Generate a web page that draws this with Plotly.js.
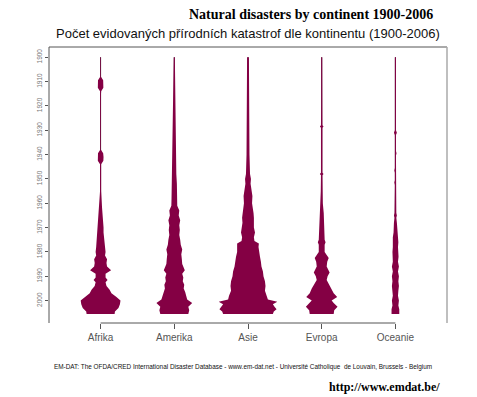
<!DOCTYPE html>
<html>
<head>
<meta charset="utf-8">
<script src="https://cdn.plot.ly/plotly-3.0.1.min.js"></script>
<style>html,body{margin:0;padding:0;background:#fff;}#chart{width:477px;height:397px;}</style>
</head>
<body>
<div id="chart"></div>
<script>
// ---- data (estimated number of recorded natural disasters per year) ----
const continents = ["Afrika", "Amerika", "Asie", "Evropa", "Oceanie"];
const yearTicks = [1900, 1910, 1920, 1930, 1940, 1950, 1960, 1970, 1980, 1990, 2000];

const afrikaYears  = [1900,1908,1909.5,1911,1912.5,1914,1915.5,1938,1939.5,1941,1942.5,1944,1945.5,1955,1962,1964,1966,1968,1970,1972,1974,1976,1978,1980,1981.5,1983,1984.5,1986,1987.5,1989,1990.5,1991.5,1992.5,1994,1995.5,1997,1998.5,2000,2001.5,2003,2004.5,2005.5];
const afrikaCounts = [2,2,14,16,15,3,2,2,14,16,15,3,3,3,8,11,14,14,16,16,19,22,24,27,24,35,32,35,57,27,27,38,27,32,49,59,86,108,105,97,78,76];

const amerikaYears  = [1900,1910,1920,1930,1940,1948,1952,1958,1961,1963,1965,1967,1969,1971,1973,1975,1977,1979,1981,1983,1985,1987.5,1989,1990.5,1992,1993.5,1995,1996.5,1998,1999.5,2001,2002.5,2004,2005.5];
const amerikaCounts = [3,4,5,7,9,11,14,15,16,27,24,32,27,30,27,32,35,43,38,41,43,57,43,49,46,54,51,59,65,70,97,76,81,76];

const asieYears  = [1900,1910,1920,1930,1934,1940,1948,1950,1952,1954,1957,1960,1962,1964,1966,1968,1970,1972,1974,1975.5,1976.5,1978,1980,1982,1984,1986,1988,1990,1992,1994,1996,1998,1999.5,2000.5,2001.5,2002.5,2003.5,2004.5,2005.5];
const asieCounts = [5,5,6,6,8,8,11,16,14,19,24,22,27,30,32,30,32,38,32,35,59,57,59,65,70,73,81,84,92,95,92,103,108,159,135,144,155,140,135];

const evropaYears  = [1900,1920,1928,1928.5,1929,1940,1947.5,1948,1948.5,1955,1960,1964,1968,1972,1975,1976,1977,1980,1982.5,1984,1986,1988.5,1990,1991.5,1993,1995,1997,1998.5,2000,2001,2002.5,2004,2005.5];
const evropaCounts = [3,3,4,10,4,4,4,10,4,5,6,11,14,14,16,21,16,16,38,30,27,43,32,27,38,54,65,84,54,65,86,68,65];

const oceanieYears  = [1900,1930,1931,1932,1938.5,1939.5,1940.5,1945.5,1946.5,1947.5,1950.5,1951.5,1952.5,1958,1959,1960,1964,1965,1966,1968,1970,1972,1974,1976,1978,1980,1982,1984,1986,1988,1990,1992,1994,1996,1998,2000,2002,2003.5,2005.5];
const oceanieCounts = [3,3,8,3,3,6,3,3,6,3,3,6,3,3,6,3,5,8,5,8,11,10,14,16,14,16,17,14,19,14,19,16,19,16,14,19,16,21,21];

const beanYears  = [afrikaYears, amerikaYears, asieYears, evropaYears, oceanieYears];
const beanCounts = [afrikaCounts, amerikaCounts, asieCounts, evropaCounts, oceanieCounts];

// ---- styling ----
const FILL = "#840044";
const SCALE = 0.0025; // half-width (x units) per disaster

const W = 477, H = 397, L = 49, R = 447, T = 47, B = 323;
const px = x => (x - L) / (R - L);
const py = y => (B - y) / (B - T);

const traces = [];
continents.forEach((name, i) => {
  const c = i + 1;
  const ys = beanYears[i], ns = beanCounts[i];
  traces.push({
    type: "scatter", mode: "lines",
    x: [c, c], y: [ys[0], ys[ys.length - 1]],
    line: {color: "#3a3a3a", width: 1},
    hoverinfo: "skip", showlegend: false
  });
  const xr = ns.map(n => c + n * SCALE);
  const xl = ns.map(n => c - n * SCALE).reverse();
  traces.push({
    type: "scatter", mode: "lines",
    x: xr.concat(xl), y: ys.concat(ys.slice().reverse()),
    fill: "toself", fillcolor: FILL,
    line: {color: FILL, width: 0},
    name: name, hoverinfo: "skip", showlegend: false
  });
});

const layout = {
  width: W, height: H,
  margin: {l: L, r: W - R, t: T, b: H - B, pad: 0},
  paper_bgcolor: "#fff", plot_bgcolor: "#fff",
  showlegend: false,
  xaxis: {
    range: [0.3, 5.7], tickmode: "array",
    tickvals: continents.map((_, i) => i + 1), ticktext: continents,
    ticks: "outside", ticklen: 5, tickcolor: "#555", tickwidth: 1,
    tickfont: {family: "Liberation Sans, Arial, sans-serif", size: 10, color: "#555"},
    showgrid: false, zeroline: false, showline: false, fixedrange: true
  },
  yaxis: {
    range: [2009.2, 1895.8], tickmode: "array", tickvals: yearTicks,
    ticks: "outside", ticklen: 3, tickcolor: "#555", tickwidth: 1,
    tickangle: -90,
    tickfont: {family: "Liberation Sans, Arial, sans-serif", size: 6.5, color: "#777"},
    showgrid: false, zeroline: false, showline: false, fixedrange: true
  },
  shapes: [
    {type: "line", xref: "paper", yref: "paper", x0: 0, x1: 1, y0: 1, y1: 1, line: {color: "#555", width: 1}},
    {type: "line", xref: "paper", yref: "paper", x0: 0, x1: 0, y0: 0, y1: 1, line: {color: "#555", width: 1}},
    {type: "line", xref: "paper", yref: "paper", x0: 1, x1: 1, y0: 0, y1: 1, line: {color: "#aaa", width: 1.5}},
    {type: "line", xref: "x", yref: "paper", x0: 1, x1: 5, y0: 0, y1: 0, line: {color: "#555", width: 1}}
  ],
  annotations: [
    {text: "<b>Natural disasters by continent 1900-2006</b>", xref: "paper", yref: "paper",
     x: px(435), y: py(15), xanchor: "right", yanchor: "middle", showarrow: false,
     font: {family: "Liberation Serif, Times New Roman, serif", size: 14, color: "#000"}},
    {text: "Počet evidovaných přírodních katastrof dle kontinentu (1900-2006)", xref: "paper", yref: "paper",
     x: px(247.5), y: py(33), xanchor: "center", yanchor: "middle", showarrow: false,
     font: {family: "Liberation Sans, Arial, sans-serif", size: 13, color: "#111"}},
    {text: "EM-DAT: The OFDA/CRED International Disaster Database - www.em-dat.net - Université Catholique  de Louvain, Brussels - Belgium",
     xref: "paper", yref: "paper", x: px(242.5), y: py(367), xanchor: "center", yanchor: "middle", showarrow: false,
     font: {family: "Liberation Sans, Arial, sans-serif", size: 6.4, color: "#111"}},
    {text: "<b>http://www.emdat.be/</b>", xref: "paper", yref: "paper",
     x: px(442), y: py(387), xanchor: "right", yanchor: "middle", showarrow: false,
     font: {family: "Liberation Serif, Times New Roman, serif", size: 12, color: "#000"}}
  ]
};

Plotly.newPlot("chart", traces, layout, {staticPlot: true, displayModeBar: false});
</script>
</body>
</html>
